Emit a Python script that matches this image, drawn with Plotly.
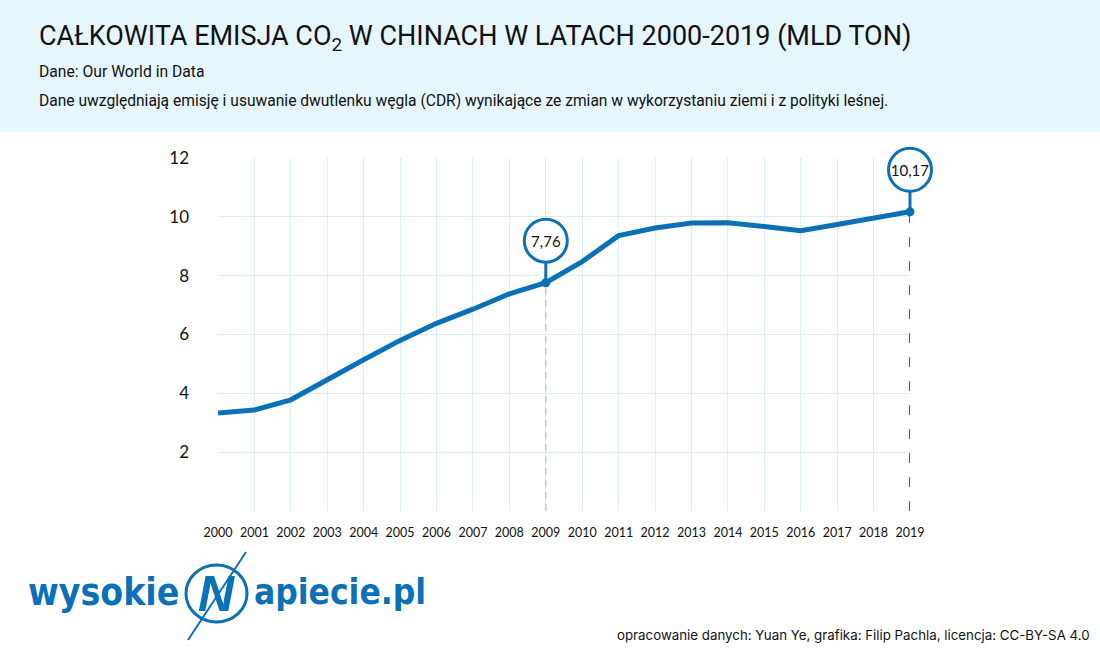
import plotly.graph_objects as go

years = list(range(2000, 2020))
emissions = [3.33, 3.43, 3.78, 4.47, 5.14, 5.80, 6.38, 6.86, 7.38, 7.76,
             8.48, 9.36, 9.62, 9.79, 9.80, 9.67, 9.53, 9.74, 9.95, 10.17]
highlight_years = [2009, 2019]
highlight_labels = ["7,76", "10,17"]
y_ticks = [2, 4, 6, 8, 10, 12]

BLUE = "#0a70b8"
GRID = "#dcedf7"

# layout geometry (pixels)
W, H = 1100, 650
ML, MR, MT, MB = 218, 190, 110, 139
PW = W - ML - MR
PH = H - MT - MB
CHART_H = 353          # height of the visible chart (0..12)
SHIFT = 42             # circle offset above the highlighted point


def px(x):
    return (x - ML) / PW


def py(y):
    return (H - MB - y) / PH


fig = go.Figure()
hv = [emissions[years.index(y)] for y in highlight_years]
dash_styles = [dict(color="#a9d3ee", width=1.5, dash="7px,5px"),
               dict(color=BLUE, width=2, dash="10px,14px")]
for yr, val, ds in zip(highlight_years, hv, dash_styles):
    fig.add_trace(go.Scatter(x=[yr, yr], y=[0, val], mode="lines", line=ds,
                             hoverinfo="skip", cliponaxis=False))
fig.add_trace(go.Scatter(x=years, y=emissions, mode="lines",
                         line=dict(color=BLUE, width=5), hoverinfo="skip",
                         cliponaxis=False))
fig.add_trace(go.Scatter(x=highlight_years, y=hv, mode="markers",
                         marker=dict(color=BLUE, size=9), cliponaxis=False,
                         hoverinfo="skip"))
# label circles on a shifted copy of the axes
fig.add_trace(go.Scatter(x=highlight_years, y=hv, mode="markers", xaxis="x2", yaxis="y2",
                         marker=dict(color="white", size=43, line=dict(color=BLUE, width=3)),
                         cliponaxis=False, hoverinfo="skip"))

shapes = [
    dict(type="rect", xref="paper", yref="paper", x0=-1, x1=2, y0=py(132), y1=2,
         fillcolor="#e6f6fd", line=dict(width=0), layer="below"),
    # logo circle and bolt
    dict(type="circle", xref="paper", yref="paper",
         x0=px(186), x1=px(247), y0=py(622), y1=py(565),
         line=dict(color=BLUE, width=3)),
    dict(type="line", xref="paper", yref="paper",
         x0=px(188), x1=px(246), y0=py(640), y1=py(552),
         line=dict(color=BLUE, width=2)),
]

annotations = []
for yr, val, lab in zip(highlight_years, hv, highlight_labels):
    annotations.append(dict(x=yr, y=val, xref="x", yref="y", text=lab, showarrow=True,
                            ax=0, ay=-SHIFT, arrowhead=0, arrowwidth=3, arrowcolor=BLUE,
                            standoff=0, width=40, height=40,
                            font=dict(family="Lato, Roboto, sans-serif", size=15, color="#111")))

LOGO_FONT = "Liberation Sans Narrow, DejaVu Sans Condensed, Roboto"
annotations += [
    dict(x=px(37), y=py(38), xref="paper", yref="paper", xanchor="left", yanchor="middle",
         text="CAŁKOWITA EMISJA CO<sub>2</sub> W CHINACH W LATACH 2000-2019 (MLD TON)",
         showarrow=False, font=dict(family="Roboto", size=27, color="#111")),
    dict(x=px(37), y=py(72), xref="paper", yref="paper", xanchor="left", yanchor="middle",
         text="Dane: Our World in Data", showarrow=False,
         font=dict(family="Roboto", size=15.7, color="#111")),
    dict(x=px(37), y=py(101), xref="paper", yref="paper", xanchor="left", yanchor="middle",
         text="Dane uwzględniają emisję i usuwanie dwutlenku węgla (CDR) wynikające ze zmian w wykorzystaniu ziemi i z polityki leśnej.",
         showarrow=False, font=dict(family="Roboto", size=15.6, color="#111")),
    dict(x=px(1092), y=py(635), xref="paper", yref="paper", xanchor="right", yanchor="middle",
         text="opracowanie danych: Yuan Ye, grafika: Filip Pachla, licencja: CC-BY-SA 4.0",
         showarrow=False, font=dict(family="Inter, Roboto", size=13.3, color="#111")),
    dict(x=px(181), y=py(592), xref="paper", yref="paper", xanchor="right", yanchor="middle",
         text="<b>wysokie</b>", showarrow=False,
         font=dict(family=LOGO_FONT, size=37, color=BLUE)),
    dict(x=px(252), y=py(592), xref="paper", yref="paper", xanchor="left", yanchor="middle",
         text="<b>apiecie.pl</b>", showarrow=False,
         font=dict(family=LOGO_FONT, size=35, color=BLUE)),
    dict(x=px(216), y=py(594), xref="paper", yref="paper", xanchor="center", yanchor="middle",
         text="<b><i>N</i></b>", showarrow=False,
         font=dict(family="Liberation Sans, Roboto", size=50, color=BLUE)),
]

x_range = [2000, 2019]
y_range = [0, 12]
fig.update_layout(
    width=W, height=H,
    margin=dict(l=ML, r=MR, t=MT, b=MB),
    paper_bgcolor="white", plot_bgcolor="rgba(0,0,0,0)",
    showlegend=False,
    shapes=shapes, annotations=annotations,
    xaxis=dict(range=x_range, domain=[0, 1], anchor="y", tickmode="array", tickvals=years,
               ticktext=[str(y) for y in years], showgrid=True, gridcolor=GRID, gridwidth=1,
               zeroline=False, showline=False, ticks="", ticklabelstandoff=12,
               tickfont=dict(family="Lato, Roboto", size=12.5, color="#111"), fixedrange=True),
    yaxis=dict(range=y_range, domain=[0, CHART_H / PH], anchor="x", tickmode="array",
               tickvals=y_ticks, showgrid=True, gridcolor=GRID, gridwidth=1, zeroline=False,
               showline=False, ticks="", ticklabelstandoff=28,
               tickfont=dict(family="Lato, Roboto", size=17, color="#111"), fixedrange=True),
    xaxis2=dict(range=x_range, domain=[0, 1], anchor="y2", visible=False, fixedrange=True),
    yaxis2=dict(range=y_range, domain=[SHIFT / PH, (CHART_H + SHIFT) / PH], anchor="x2",
                visible=False, fixedrange=True),
)

fig.write_html("out.html")
